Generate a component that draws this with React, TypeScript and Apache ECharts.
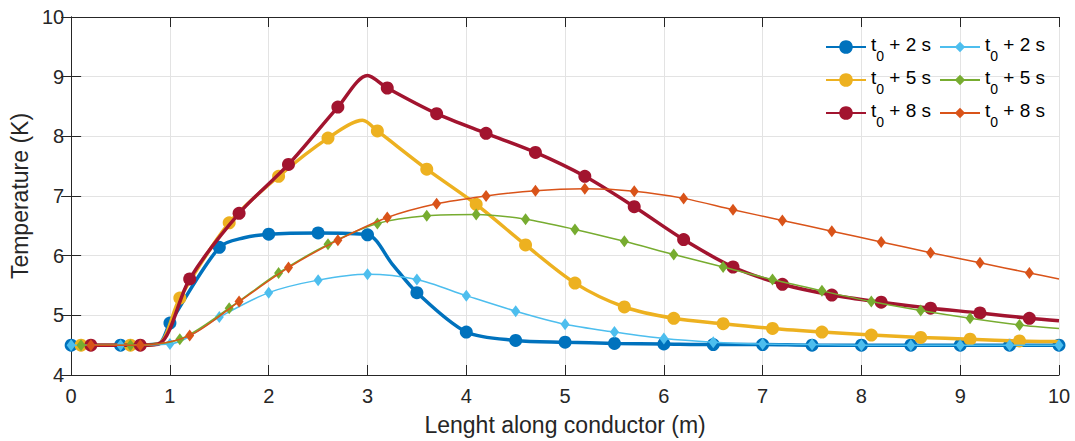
import React, { useEffect, useRef } from "react";
import * as echarts from "echarts";

// ---- data ----
const xTicks = [0, 1, 2, 3, 4, 5, 6, 7, 8, 9, 10];
const yTicks = [4, 5, 6, 7, 8, 9, 10];

// thick curves (circle markers)
const thick2Marks = [[0,4.5],[0.5,4.5],[1.0,4.87],[1.5,6.14],[2.0,6.36],[2.5,6.38],[3.0,6.35],[3.5,5.38],[4.0,4.72],[4.5,4.58],[5.0,4.55],[5.5,4.53],[6.0,4.52],[6.5,4.51],[7.0,4.51],[7.5,4.5],[8.0,4.5],[8.5,4.5],[9.0,4.5],[9.5,4.5],[10,4.5]];
const thick2Extra = [[0.88,4.52],[1.75,6.3],[3.25,5.86]];

const thick5Marks = [[0.1,4.5],[0.6,4.5],[1.1,5.29],[1.6,6.55],[2.1,7.33],[2.6,7.97],[3.1,8.09],[3.6,7.45],[4.1,6.86],[4.6,6.18],[5.1,5.54],[5.6,5.14],[6.1,4.95],[6.6,4.86],[7.1,4.78],[7.6,4.72],[8.1,4.67],[8.6,4.63],[9.1,4.6],[9.6,4.57]];
const thick5Extra = [[0.88,4.52],[2.95,8.27],[10,4.56]];

const thick8Marks = [[0.2,4.5],[0.7,4.5],[1.2,5.61],[1.7,6.71],[2.2,7.53],[2.7,8.49],[3.2,8.81],[3.7,8.38],[4.2,8.05],[4.7,7.73],[5.2,7.33],[5.7,6.82],[6.2,6.27],[6.7,5.81],[7.2,5.52],[7.7,5.34],[8.2,5.22],[8.7,5.12],[9.2,5.04],[9.7,4.95]];
const thick8Extra = [[0.9,4.53],[3.0,9.02],[10,4.91]];

// thin curves (diamond markers)
const thin2Marks = [[0,4.5],[0.5,4.5],[1.0,4.52],[1.5,4.97],[2.0,5.38],[2.5,5.59],[3.0,5.69],[3.5,5.6],[4.0,5.33],[4.5,5.07],[5.0,4.85],[5.5,4.72],[6.0,4.61],[6.5,4.55],[7.0,4.52],[7.5,4.51],[8.0,4.5],[8.5,4.5],[9.0,4.5],[9.5,4.5],[10,4.5]];
const thin2Extra: number[][] = [];

const thin5Marks = [[0.1,4.5],[0.6,4.5],[1.1,4.6],[1.6,5.12],[2.1,5.71],[2.6,6.19],[3.1,6.54],[3.6,6.67],[4.1,6.69],[4.6,6.61],[5.1,6.44],[5.6,6.24],[6.1,6.02],[6.6,5.81],[7.1,5.6],[7.6,5.41],[8.1,5.23],[8.6,5.08],[9.1,4.95],[9.6,4.84]];
const thin5Extra = [[10,4.78]];

const thin8Marks = [[0.2,4.5],[0.7,4.5],[1.2,4.66],[1.7,5.23],[2.2,5.8],[2.7,6.26],[3.2,6.64],[3.7,6.87],[4.2,7.0],[4.7,7.09],[5.2,7.12],[5.7,7.08],[6.2,6.96],[6.7,6.77],[7.2,6.59],[7.7,6.41],[8.2,6.23],[8.7,6.05],[9.2,5.88],[9.7,5.71]];
const thin8Extra = [[10,5.61]];

const seriesNames = ["thick2", "thick5", "thick8", "thin2", "thin5", "thin8"];
const seriesLabels = ["2", "5", "8", "2", "5", "8"];
const colors = ["#0072BD", "#EDB120", "#A2142F", "#4DBEEE", "#77AC30", "#D95319"];

const FONT = "'Liberation Sans', Arial, Helvetica, sans-serif";
const TXT = "#262626";

function merge(marks: number[][], extra: number[][]) {
  const all: any[] = [
    ...marks.map((p) => ({ value: [p[0], p[1]] })),
    ...extra.map((p) => ({ value: [p[0], p[1]], symbol: "none" })),
  ];
  all.sort((a, b) => a.value[0] - b.value[0]);
  return all;
}

export default function App() {
  const ref = useRef<HTMLDivElement>(null);
  useEffect(() => {
    if (!ref.current) return;
    const chart = echarts.init(ref.current, undefined, { renderer: "svg" });
    const datasets = [
      merge(thick2Marks, thick2Extra),
      merge(thick5Marks, thick5Extra),
      merge(thick8Marks, thick8Extra),
      merge(thin2Marks, thin2Extra),
      merge(thin5Marks, thin5Extra),
      merge(thin8Marks, thin8Extra),
    ];
    const series = datasets.map((data, i) => {
      const thick = i < 3;
      return {
        name: seriesNames[i],
        type: "line",
        data,
        smooth: 0.3,
        symbol: thick ? "circle" : "diamond",
        symbolSize: thick ? 13 : [9, 12],
        showAllSymbol: true,
        lineStyle: { color: colors[i], width: thick ? 3.5 : 1.5 },
        itemStyle: { color: colors[i], borderWidth: 0 },
        emphasis: { disabled: true },
        z: 2 + i,
      };
    });
    const legendText = {
      fontFamily: FONT,
      color: "#000",
      fontSize: 19,
      rich: {
        a: { fontFamily: FONT, fontSize: 19, color: "#000", lineHeight: 24, verticalAlign: "top" },
        sub: { fontFamily: FONT, fontSize: 14, color: "#000", lineHeight: 14, padding: [14, 0, 0, 0], verticalAlign: "top" },
      },
    };
    const fmt = (name: string) => {
      const idx = seriesNames.indexOf(name);
      return "{a|t}{sub|0}{a| + " + seriesLabels[idx] + " s}";
    };
    const axisLineStyle = { color: TXT, width: 1 };
    const legendBase = {
      orient: "vertical",
      top: 35,
      padding: 0,
      itemWidth: 40,
      itemGap: 5,
      formatter: fmt,
      textStyle: legendText,
      selectedMode: false,
    };
    chart.setOption({
      animation: false,
      backgroundColor: "#fff",
      textStyle: { fontFamily: FONT },
      grid: { left: 69, right: 16, top: 17, bottom: 66, containLabel: false },
      legend: [
        { ...legendBase, data: seriesNames.slice(0, 3), left: 825, itemHeight: 17 },
        { ...legendBase, data: seriesNames.slice(3, 6), left: 939, itemHeight: 13 },
      ],
      xAxis: [
        {
          type: "value",
          min: 0,
          max: 10,
          interval: 1,
          name: "Lenght along conductor (m)",
          nameLocation: "middle",
          nameGap: 38,
          nameTextStyle: { fontSize: 23, color: TXT, fontFamily: FONT },
          axisLine: { show: true, lineStyle: axisLineStyle },
          axisTick: { show: true, inside: true, length: 10, lineStyle: axisLineStyle },
          axisLabel: { fontSize: 20, color: TXT, margin: 11, fontFamily: FONT },
          splitLine: { show: true, lineStyle: { color: "#e3e3e3", width: 1 } },
        },
        {
          type: "value",
          position: "top",
          min: 0,
          max: 10,
          interval: 1,
          axisLine: { show: true, lineStyle: axisLineStyle },
          axisTick: { show: true, inside: true, length: 10, lineStyle: axisLineStyle },
          axisLabel: { show: false },
          splitLine: { show: false },
        },
      ],
      yAxis: [
        {
          type: "value",
          min: 4,
          max: 10,
          interval: 1,
          name: "Temperature (K)",
          nameLocation: "middle",
          nameGap: 35,
          nameTextStyle: { fontSize: 23, color: TXT, fontFamily: FONT },
          axisLine: { show: true, lineStyle: axisLineStyle },
          axisTick: { show: true, inside: true, length: 10, lineStyle: axisLineStyle },
          axisLabel: { fontSize: 20, color: TXT, margin: 7, fontFamily: FONT },
          splitLine: { show: true, lineStyle: { color: "#e3e3e3", width: 1 } },
        },
        {
          type: "value",
          position: "right",
          min: 4,
          max: 10,
          interval: 1,
          axisLine: { show: true, lineStyle: axisLineStyle },
          axisTick: { show: true, inside: true, length: 10, lineStyle: axisLineStyle },
          axisLabel: { show: false },
          splitLine: { show: false },
        },
      ],
      series,
    });
    return () => chart.dispose();
  }, []);
  return <div ref={ref} style={{ width: 1075, height: 441, position: "absolute", left: 0, top: 0 }} />;
}
